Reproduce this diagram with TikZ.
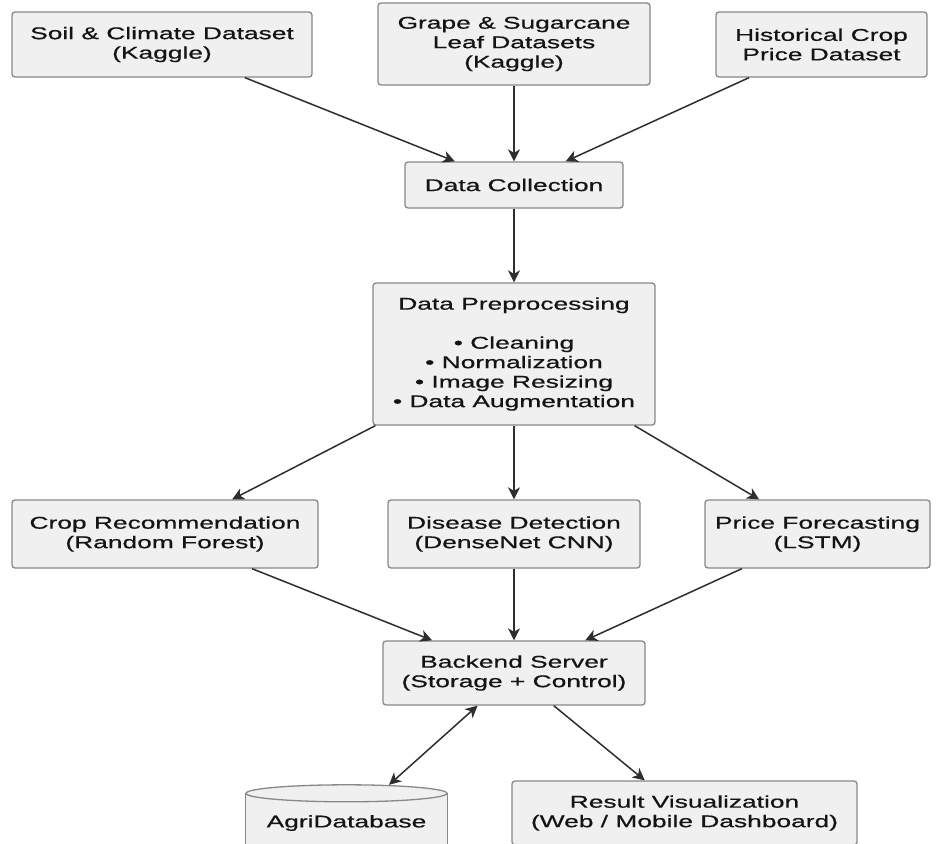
\documentclass[tikz,border=0pt]{standalone}
\usepackage{fontspec}
\setmainfont[FakeStretch=1.55,FakeBold=0.6]{Liberation Sans}
\usetikzlibrary{arrows.meta}
\definecolor{boxfill}{HTML}{F0F0F0}
\definecolor{boxline}{HTML}{888888}
\definecolor{arrowc}{HTML}{2E2E2E}
\definecolor{txt}{HTML}{141414}
\begin{document}
\begin{tikzpicture}[x=1pt,y=-1pt,
  box/.style={draw=boxline, line width=1.3pt, fill=boxfill, rounded corners=3pt,
    align=center, text=txt, font=\fontsize{17}{19.5}\selectfont, inner sep=0pt},
  dbnode/.style={align=center, text=txt, font=\fontsize{17}{19.5}\selectfont, inner sep=0pt},
  arr/.style={draw=arrowc, line width=1.5pt, -{Stealth[length=12pt,width=12pt,inset=3.5pt]}},
  barr/.style={draw=arrowc, line width=1.5pt, {Stealth[length=12pt,width=12pt,inset=3.5pt]}-{Stealth[length=12pt,width=12pt,inset=3.5pt]}}]
\useasboundingbox (0,0) rectangle (936,843);
\fill[white] (0,0) rectangle (936,843);
\clip (0,0) rectangle (936,843);

\node[box, minimum width=300pt, minimum height=65pt] (soil) at (162,44.5) {Soil \& Climate Dataset\\(Kaggle)};
\node[box, minimum width=272pt, minimum height=82pt] (grape) at (514,44) {Grape \& Sugarcane\\Leaf Datasets\\(Kaggle)};
\node[box, minimum width=211pt, minimum height=65pt] (hist) at (821.5,44.5) {Historical Crop\\Price Dataset};
\node[box, minimum width=218pt, minimum height=46pt] (dc) at (514,185) {Data Collection};
\node[box, minimum width=282pt, minimum height=142pt] (dp) at (514,354) {Data Preprocessing\\[19.5pt]\textbullet{} Cleaning\\\textbullet{} Normalization\\\textbullet{} Image Resizing\\\textbullet{} Data Augmentation};
\node[box, minimum width=306pt, minimum height=68pt] (crop) at (165,534) {Crop Recommendation\\(Random Forest)};
\node[box, minimum width=252pt, minimum height=68pt] (dis) at (514,534) {Disease Detection\\(DenseNet CNN)};
\node[box, minimum width=225pt, minimum height=68pt] (price) at (817.5,534) {Price Forecasting\\(LSTM)};
\node[box, minimum width=262pt, minimum height=64pt] (back) at (514,673) {Backend Server\\(Storage + Control)};
\node[box, minimum width=345pt, minimum height=64pt] (res) at (684.5,813) {Result Visualization\\(Web / Mobile Dashboard)};

% cylinder
\node[dbnode, minimum width=201pt, minimum height=76pt] (db) at (346.5,823) {};
\fill[boxfill] ([yshift=-8.5pt]db.north west) -- ([yshift=-8.5pt]db.south west) -- ([yshift=-8.5pt]db.south east) -- ([yshift=-8.5pt]db.north east) -- cycle;
\draw[draw=boxline, line width=1.3pt] ([yshift=-8.5pt]db.north west) -- ([yshift=-8.5pt]db.south west);
\draw[draw=boxline, line width=1.3pt] ([yshift=-8.5pt]db.north east) -- ([yshift=-8.5pt]db.south east);
\draw[draw=boxline, line width=1.3pt, fill=boxfill] ([yshift=-8.5pt]db.north) ellipse [x radius=100.5pt, y radius=8.5pt];
\node[dbnode] (dblabel) at (db.center) {AgriDatabase};

\draw[arr] (soil) -- (dc);
\draw[arr] (grape) -- (dc);
\draw[arr] (hist) -- (dc);
\draw[arr] (dc) -- (dp);
\draw[arr] (dp) -- (crop);
\draw[arr] (dp) -- (dis);
\draw[arr] (dp) -- (price);
\draw[arr] (crop) -- (back);
\draw[arr] (dis) -- (back);
\draw[arr] (price) -- (back);
\draw[barr] (back) -- (db);
\draw[arr] (back) -- (res);
\end{tikzpicture}
\end{document}
